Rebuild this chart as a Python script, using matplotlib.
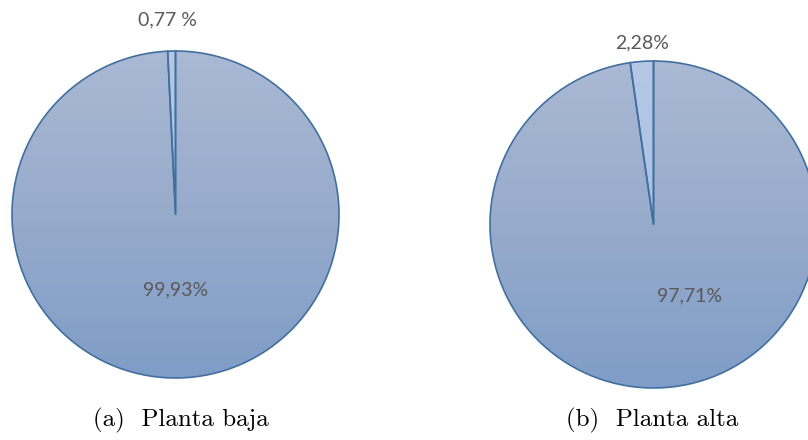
import numpy as np
import matplotlib
matplotlib.use("Agg")
import matplotlib.pyplot as plt
from matplotlib.colors import LinearSegmentedColormap

# Share of each floor
baja_labels = ["0,77 %", "99,93%"]
baja_values = [0.77, 99.93]
alta_labels = ["2,28%", "97,71%"]
alta_values = [2.28, 97.71]
captions = ["(a)  Planta baja", "(b)  Planta alta"]

W, H = 808, 440
fig = plt.figure(figsize=(W / 100, H / 100), dpi=100)
ax = fig.add_axes([0, 0, 1, 1])

main_cmap = LinearSegmentedColormap.from_list("main", ["#7f9dc7", "#97abcb", "#aab9d4"])
small_cmap = LinearSegmentedColormap.from_list("small", ["#9fb8df", "#b6c8e6"])
edge = "#41709f"
R = 163.5


def draw_pie(values, labels, center, small_pos, big_pos):
    cx, cy = center
    wedges, _ = ax.pie(values, center=center, radius=R, startangle=90,
                       counterclock=True,
                       wedgeprops=dict(facecolor="none", edgecolor=edge, linewidth=1.2),
                       frame=True)
    grad = np.linspace(0, 1, 256).reshape(-1, 1)
    for w, cmap in zip(wedges, [small_cmap, main_cmap]):
        w.set_zorder(3)
        im = ax.imshow(grad, cmap=cmap, origin="lower", aspect="auto",
                       extent=(cx - R, cx + R, cy - R, cy + R), zorder=2,
                       interpolation="bilinear")
        im.set_clip_path(w)
    for txt, pos in zip(labels, [small_pos, big_pos]):
        ax.text(pos[0], pos[1], txt, ha="center", va="center",
                fontsize=14, color="#595959", family="Lato", zorder=5)


draw_pie(baja_values, baja_labels, (175.5, H - 214.5), (167, H - 20), (176, H - 290))
draw_pie(alta_values, alta_labels, (653.5, H - 224.5), (642, H - 43), (689, H - 296))

for txt, x in zip(captions, [181, 652]):
    ax.text(x, H - 420, txt, ha="center", va="center", fontsize=18,
            family="cmr10", color="black")

ax.set_xlim(0, W)
ax.set_ylim(0, H)
ax.set_aspect("auto")
ax.axis("off")
fig.savefig("out.png", dpi=100)
